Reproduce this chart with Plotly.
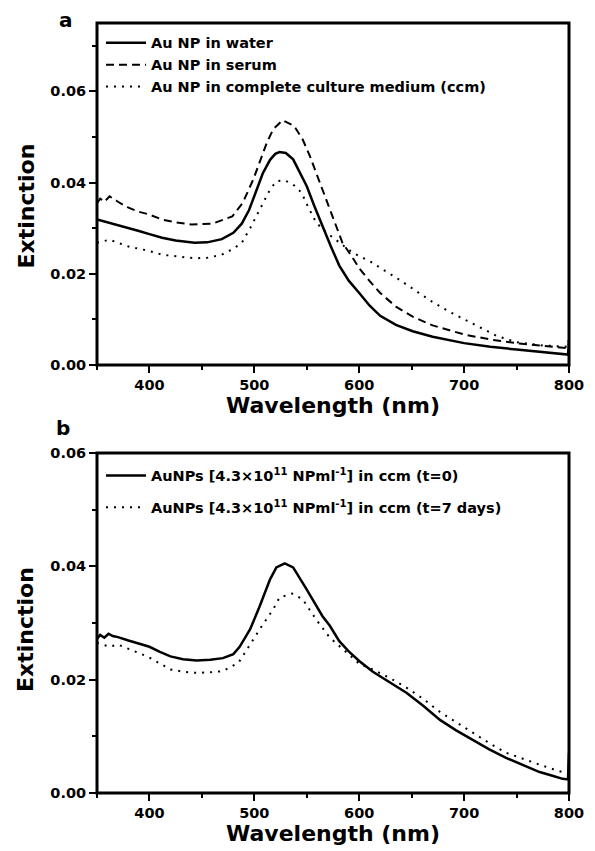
import plotly.graph_objects as go

# Panel a: Au NP in water / serum / complete culture medium
wl_water = [350, 355, 360, 370, 380, 390, 400, 412, 425, 443, 455, 469, 480, 488, 495, 502, 508, 515, 520, 524,
            530, 537, 543, 550, 557, 565, 573, 581, 590, 600, 610, 620, 635, 651, 670, 700, 725, 750, 775, 799, 800]
ext_water = [0.0319, 0.0316, 0.0312, 0.0306, 0.0301, 0.0294, 0.0287, 0.0279, 0.0273, 0.0268, 0.0269, 0.0276,
             0.0290, 0.0310, 0.0340, 0.0385, 0.0420, 0.0450, 0.0463, 0.0467, 0.0465, 0.0451, 0.0425, 0.0392,
             0.0350, 0.0304, 0.0260, 0.0218, 0.0185, 0.0158, 0.0130, 0.0108, 0.0088, 0.0074, 0.0062, 0.0048,
             0.0040, 0.0034, 0.0028, 0.0023, 0.0045]

wl_serum = [350, 353, 357, 362, 370, 380, 390, 400, 412, 425, 440, 460, 479, 489, 499, 505, 512, 518, 527, 538,
            546, 553, 559, 565, 572, 578, 584, 593, 600, 610, 620, 635, 651, 670, 700, 725, 750, 775, 799, 800]
ext_serum = [0.0355, 0.0365, 0.0358, 0.0370, 0.0358, 0.0345, 0.0336, 0.0330, 0.0319, 0.0313, 0.0308, 0.0310,
             0.0326, 0.0356, 0.0407, 0.0444, 0.0488, 0.0517, 0.0537, 0.0524, 0.0495, 0.0458, 0.0422, 0.0385,
             0.0341, 0.0304, 0.0268, 0.0238, 0.0212, 0.0184, 0.0158, 0.0128, 0.0106, 0.0087, 0.0067, 0.0056,
             0.0048, 0.0042, 0.0037, 0.0055]

wl_ccm = [350, 355, 362, 370, 380, 390, 400, 412, 425, 443, 455, 469, 480, 488, 496, 505, 515, 521, 529, 537,
          545, 551, 559, 569, 581, 594, 613, 620, 635, 651, 670, 685, 700, 715, 731, 750, 775, 799, 800]
ext_ccm = [0.0268, 0.0271, 0.0275, 0.0268, 0.0260, 0.0255, 0.0250, 0.0242, 0.0238, 0.0234, 0.0235, 0.0242,
           0.0255, 0.0268, 0.0300, 0.0341, 0.0385, 0.0403, 0.0405, 0.0396, 0.0378, 0.0348, 0.0312, 0.0290,
           0.0268, 0.0246, 0.0224, 0.0213, 0.0192, 0.0167, 0.0138, 0.0118, 0.0100, 0.0082, 0.0064, 0.0050,
           0.0043, 0.0040, 0.0060]

# Panel b: AuNPs in ccm at t=0 and t=7 days
wl_t0 = [350, 353, 357, 361, 365, 370, 380, 390, 400, 410, 420, 432, 445, 458, 470, 480, 486, 496, 505, 515,
         521, 529, 537, 550, 565, 572, 581, 590, 600, 613, 629, 645, 661, 677, 692, 708, 724, 740, 756, 772,
         785, 794, 799, 800]
ext_t0 = [0.0272, 0.0279, 0.0274, 0.0281, 0.0277, 0.0275, 0.0269, 0.0264, 0.0258, 0.0249, 0.0241, 0.0236,
          0.0234, 0.0235, 0.0238, 0.0245, 0.0258, 0.0289, 0.0329, 0.0377, 0.0398, 0.0405, 0.0398, 0.0359,
          0.0312, 0.0295, 0.0268, 0.0250, 0.0233, 0.0214, 0.0196, 0.0177, 0.0154, 0.0129, 0.0111, 0.0094,
          0.0077, 0.0062, 0.0049, 0.0037, 0.0030, 0.0025, 0.0024, 0.0070]

wl_t7 = [350, 355, 362, 370, 380, 390, 400, 410, 420, 432, 445, 458, 470, 485, 499, 508, 518, 524, 536, 546,
         559, 572, 588, 600, 613, 629, 645, 661, 677, 692, 708, 724, 740, 756, 772, 785, 797]
ext_t7 = [0.0265, 0.0262, 0.0258, 0.0262, 0.0255, 0.0247, 0.0239, 0.0228, 0.0218, 0.0214, 0.0212, 0.0213,
          0.0215, 0.0230, 0.0271, 0.0297, 0.0324, 0.0345, 0.0352, 0.0342, 0.0306, 0.0274, 0.0248, 0.0228,
          0.0218, 0.0203, 0.0186, 0.0166, 0.0143, 0.0125, 0.0106, 0.0088, 0.0071, 0.0060, 0.0050, 0.0042,
          0.0035]

names_a = ["Au NP in water", "Au NP in serum", "Au NP in complete culture medium (ccm)"]
names_b = ["AuNPs [4.3\u00d710<sup>11</sup> NPml<sup>-1</sup>] in ccm (t=0)",
           "AuNPs [4.3\u00d710<sup>11</sup> NPml<sup>-1</sup>] in ccm (t=7 days)"]

FONT = "DejaVu Sans, Liberation Sans, Arial, sans-serif"

fig = go.Figure()
fig.add_trace(go.Scatter(x=wl_water, y=ext_water, mode="lines", name=names_a[0],
                         line=dict(color="black", width=2.5), xaxis="x", yaxis="y", legend="legend"))
fig.add_trace(go.Scatter(x=wl_serum, y=ext_serum, mode="lines", name=names_a[1],
                         line=dict(color="black", width=2, dash="8px,5px"), xaxis="x", yaxis="y", legend="legend"))
fig.add_trace(go.Scatter(x=wl_ccm, y=ext_ccm, mode="lines", name=names_a[2],
                         line=dict(color="black", width=2, dash="2px,6px"), xaxis="x", yaxis="y", legend="legend"))
fig.add_trace(go.Scatter(x=wl_t0, y=ext_t0, mode="lines", name=names_b[0], legendgroup="t0",
                         line=dict(color="black", width=2.5), xaxis="x2", yaxis="y2", legend="legend2"))
fig.add_trace(go.Scatter(x=wl_t7, y=ext_t7, mode="lines", name=names_b[1], legendgroup="t7",
                         line=dict(color="black", width=2, dash="2px,6px"), xaxis="x2", yaxis="y2", legend="legend2"))

tickfont = dict(family=FONT, size=14.5, color="black", weight="bold")
xtitlefont = dict(family=FONT, size=22, color="black", weight="bold")
legfont = dict(family=FONT, size=14.5, color="black", weight="bold")

common_x = dict(range=[350, 800], dtick=100, tick0=400, showline=False,
                ticks="outside", ticklen=7, tickwidth=2, tickcolor="black",
                minor=dict(ticks="outside", ticklen=4, tickwidth=2, tickcolor="black", dtick=50, tick0=350),
                showgrid=False, zeroline=False, tickfont=tickfont, automargin=False,
                title=dict(text="Wavelength (nm)", font=xtitlefont, standoff=2))
common_y = dict(showline=False, ticks="outside", ticklen=7,
                tickwidth=2, tickcolor="black", dtick=0.02, tick0=0, tickformat=".2f",
                minor=dict(ticks="outside", ticklen=4, tickwidth=2, tickcolor="black", dtick=0.01),
                showgrid=False, zeroline=False, tickfont=tickfont, automargin=False)

# frame around each panel
frames = []
for xr, yr in [("x domain", "y domain"), ("x2 domain", "y2 domain")]:
    frames.append(dict(type="rect", xref=xr, yref=yr, x0=0, x1=1, y0=0, y1=1,
                       line=dict(color="black", width=3), layer="above"))

labelfont = dict(family=FONT, size=20, color="black", weight="bold")
ytitle = dict(family=FONT, size=22, color="black", weight="bold")

# page body adds 8px, so the figure is 8px smaller; plot area x 89..561, y 15..785
fig.update_layout(
    width=587, height=843,
    margin=dict(l=89, r=26, t=15, b=58),
    paper_bgcolor="white", plot_bgcolor="white",
    xaxis=dict(common_x, domain=[0, 1], anchor="y"),
    yaxis=dict(common_y, domain=[0.5558, 1], range=[0, 0.075], anchor="x"),
    xaxis2=dict(common_x, domain=[0, 1], anchor="y2"),
    yaxis2=dict(common_y, domain=[0, 0.4416], range=[0, 0.06], anchor="x2"),
    legend=dict(x=0.0085, y=0.995, xanchor="left", yanchor="top", bgcolor="rgba(0,0,0,0)",
                font=legfont, tracegroupgap=0, itemwidth=40),
    legend2=dict(x=0.0085, y=0.433, xanchor="left", yanchor="top", bgcolor="rgba(0,0,0,0)",
                 font=legfont, tracegroupgap=10, itemwidth=40),
    shapes=frames,
    annotations=[
        dict(text="a", x=-0.0657, y=1.0039, xref="paper", yref="paper", xanchor="center", yanchor="middle",
             borderpad=0, showarrow=False, font=labelfont),
        dict(text="b", x=-0.072, y=0.4734, xref="paper", yref="paper", xanchor="center", yanchor="middle",
             showarrow=False, font=labelfont),
        dict(text="Extinction", textangle=-90, x=-0.1504, y=0.7617, xref="paper", yref="paper",
             xanchor="center", yanchor="middle", showarrow=False, font=ytitle),
        dict(text="Extinction", textangle=-90, x=-0.1504, y=0.2117, xref="paper", yref="paper",
             xanchor="center", yanchor="middle", showarrow=False, font=ytitle),
    ],
)

fig.write_html("out.html")
